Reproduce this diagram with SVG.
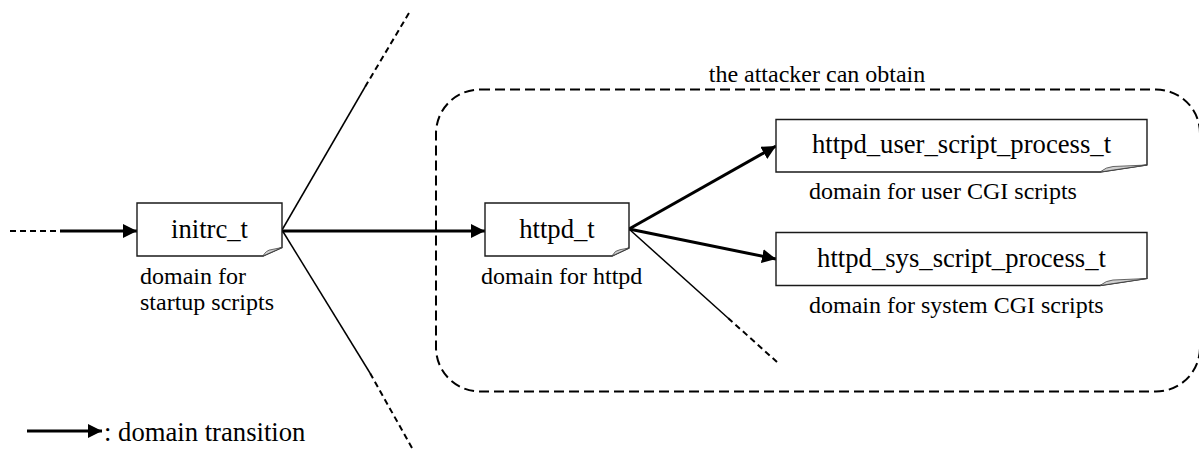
<svg xmlns="http://www.w3.org/2000/svg" width="1199" height="451" viewBox="0 0 1199 451" font-family="Liberation Serif, Times New Roman, DejaVu Serif, serif">
  <style>
    text { font-family: "Liberation Serif", "Times New Roman", Times, "DejaVu Serif", serif; fill: #000; }
    .box { fill: #ffffff; stroke: #1a1a1a; stroke-width: 1.4; }
    .curl { fill: #cfcfcf; stroke: #444; stroke-width: 0.8; }
    .name { font-size: 26.67px; text-anchor: middle; }
    .note { font-size: 24px; }
    .legend { font-size: 26.67px; }
    .trans { fill: none; stroke: #000; stroke-width: 3; }
    .thin { fill: none; stroke: #000; stroke-width: 1.5; }
    .dash { fill: none; stroke: #000; stroke-width: 2; stroke-dasharray: 6 4; }
    .zone { fill: none; stroke: #000; stroke-width: 2; stroke-dasharray: 10 5; }
  </style>
  <defs>
    <marker id="head" markerUnits="userSpaceOnUse" markerWidth="16" markerHeight="14" refX="14" refY="7" orient="auto">
      <path d="M0,0 L14,7 L0,14 Z" fill="#000"/>
    </marker>
  </defs>

  <!-- region reachable by the attacker -->
  <g id="attacker-zone">
    <rect class="zone" x="436" y="89.5" width="764" height="302" rx="44" ry="44"/>
    <text class="note" x="817" y="82" text-anchor="middle" font-family="Liberation Serif">the attacker can obtain</text>
  </g>

  <!-- transitions and other branches -->
  <g id="connectors">
    <path class="dash" d="M10,231 H60"/>
    <path class="trans" d="M60,231 H137" marker-end="url(#head)"/>
    <path class="trans" d="M282,231 H485" marker-end="url(#head)"/>
    <path class="trans" d="M629,229 L776,146" marker-end="url(#head)"/>
    <path class="trans" d="M629,229 L776,259" marker-end="url(#head)"/>

    <path class="thin" d="M282,230 L365,87"/>
    <path class="dash" d="M365,87 L409,13"/>
    <path class="thin" d="M282,230 L370,373"/>
    <path class="dash" d="M370,373 L412,448"/>
    <path class="thin" d="M629,229 L728,318"/>
    <path class="dash" d="M728,318 L777,362"/>
  </g>

  <g id="initrc_t">
    <path class="box" d="M137,203 H282 V247.5 L263,256 H137 Z"/>
    <path class="curl" d="M263,256 Q266,250 272,249.5 L282,247.5 Z"/>
    <text class="name" x="209.5" y="238" font-family="Liberation Serif">initrc_t</text>
    <text class="note" x="140" y="284" font-family="Liberation Serif">domain for</text>
    <text class="note" x="140" y="310" font-family="Liberation Serif">startup scripts</text>
  </g>

  <g id="httpd_t">
    <path class="box" d="M485,203 H629 V248 L612,256 H485 Z"/>
    <path class="curl" d="M612,256 Q615,250 620,249.7 L629,248 Z"/>
    <text class="name" x="557" y="238" font-family="Liberation Serif">httpd_t</text>
    <text class="note" x="481" y="284" font-family="Liberation Serif">domain for httpd</text>
  </g>

  <g id="httpd_user_script_process_t">
    <path class="box" d="M776,119.5 H1147 V165 L1100,172 H776 Z"/>
    <path class="curl" d="M1100,172 Q1106,167 1113,166.5 L1147,165 Z"/>
    <text class="name" x="961.5" y="153" font-family="Liberation Serif">httpd_user_script_process_t</text>
    <text class="note" x="809" y="199" font-family="Liberation Serif">domain for user CGI scripts</text>
  </g>

  <g id="httpd_sys_script_process_t">
    <path class="box" d="M776,232.5 H1147 V278.5 L1100,285.5 H776 Z"/>
    <path class="curl" d="M1100,285.5 Q1106,280.5 1113,280 L1147,278.5 Z"/>
    <text class="name" x="961.5" y="266.5" font-family="Liberation Serif">httpd_sys_script_process_t</text>
    <text class="note" x="809" y="312.5" font-family="Liberation Serif">domain for system CGI scripts</text>
  </g>

  <!-- legend -->
  <g id="legend">
    <path class="trans" d="M27,431 H102" marker-end="url(#head)"/>
    <text class="legend" x="104" y="441" font-family="Liberation Serif">: domain transition</text>
  </g>
</svg>
